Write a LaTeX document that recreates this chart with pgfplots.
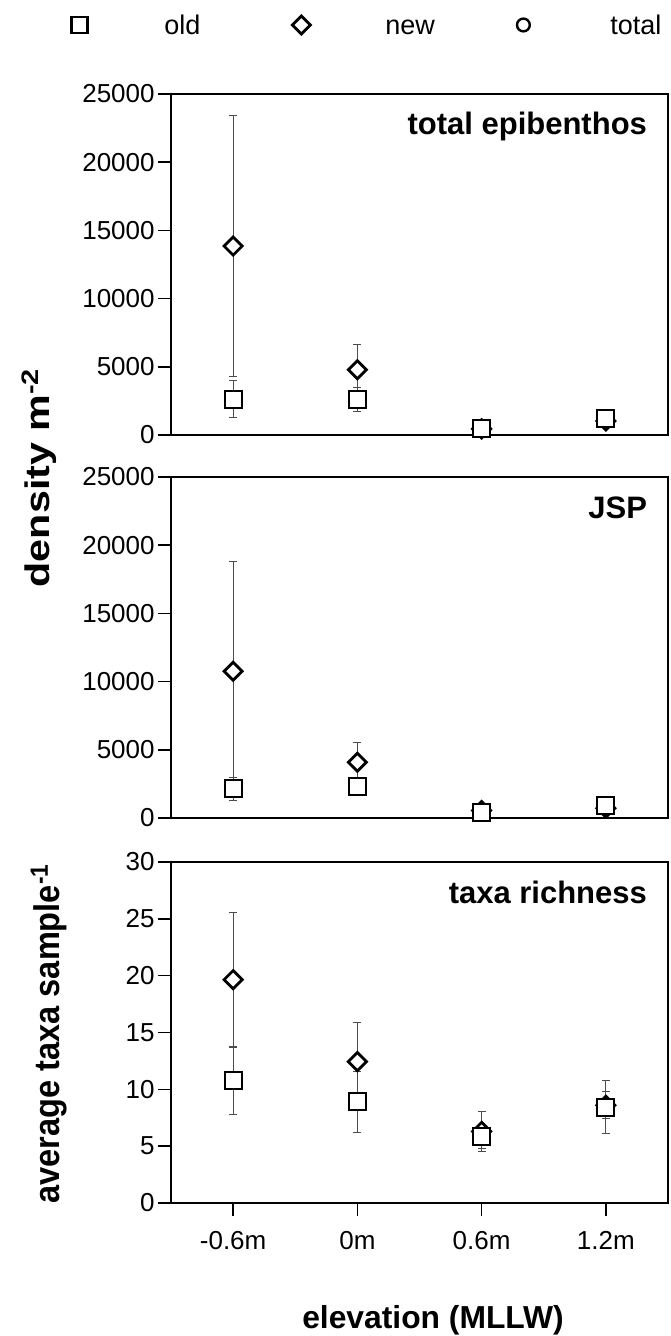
\documentclass[border=0pt]{standalone}
\usepackage{pgfplots}
\pgfplotsset{compat=1.18}
\usepackage{fontspec}
\setmainfont{Liberation Sans}

\pgfplotstableread{
x y e
0 2625 1350
1 2625 880
2 460 100
3 1200 100
}\oldA
\pgfplotstableread{
x y e
0 13850 9550
1 4780 1840
2 450 100
3 1020 100
}\newA
\pgfplotstableread{
x y e
0 2130 850
1 2330 300
2 370 100
3 900 100
}\oldB
\pgfplotstableread{
x y e
0 10760 8070
1 4090 1420
2 550 100
3 720 100
}\newB
\pgfplotstableread{
x y e
0 10.76 3.0
1 8.9 2.7
2 5.82 1.0
3 8.44 2.3
}\oldC
\pgfplotstableread{
x y e
0 19.65 5.95
1 12.44 3.45
2 6.3 1.75
3 8.6 1.2
}\newC

\pgfplotsset{
 panel/.style={
  scale only axis, width=248.5pt, height=170.5pt,
  xmin=-0.5, xmax=3.5, clip=false,
  axis line style={line width=1pt},
  tick style={black, line width=0.8pt},
  tick align=outside, major tick length=6.5pt,
  ytick pos=left, xtick pos=bottom,
  yticklabel style={font=\fontsize{13}{15}\selectfont, inner sep=1.5pt},
  xticklabel style={font=\fontsize{13}{15}\selectfont, yshift=-4pt},
  /pgf/number format/assume math mode=true,
  /pgf/number format/1000 sep={},
  scaled y ticks=false,
 },
 fixedimg/.style={legend image code/.code={
   \path[draw=none, fill=none] (0pt,-5pt) rectangle (17pt,5pt);
   \draw plot coordinates {(8.5pt,0pt)};}},
 oldmark/.style={only marks, mark=square*, mark size=4.25pt,
  mark options={fill=white, draw=black, line width=1pt}},
 newmark/.style={only marks, mark=square*, mark size=3.2pt,
  mark options={rotate=45, fill=white, draw=black, line width=1.4pt}},
 ebars/.style={error bars/.cd, y dir=both, y explicit,
  error bar style={line width=0.5pt, black!70},
  error mark options={rotate=90, mark size=2pt, line width=0.5pt, black!70}},
}
\tikzset{
 ttl/.style={anchor=base east, xshift=-7pt, yshift=-20.5pt,
  font=\bfseries\fontsize{15.5}{18}\selectfont},
}

\begin{document}
\begin{tikzpicture}
\path[use as bounding box] (-85.5pt,47pt) rectangle (249.5pt,-621pt);

\begin{axis}[panel, at={(0pt,0pt)}, anchor=north west,
  ymin=0, ymax=25000, ytick={0,5000,...,25000}, xtick=\empty,
  legend style={draw=none, fill=none, at={(axis description cs:0,1)}, anchor=west,
    xshift=-57.5pt, yshift=34.5pt, legend columns=3, column sep=0pt,
    nodes={inner sep=0pt}, font=\fontsize{13.5}{16}\selectfont}]
\addlegendimage{only marks, mark=square*, mark size=4pt, mark options={fill=white, draw=black, line width=1.4pt}, fixedimg}
\addlegendentry{\makebox[94pt][l]{\hspace{34pt}\strut old}}
\addlegendimage{newmark, fixedimg}
\addlegendentry{\makebox[94pt][l]{\hspace{33.5pt}\strut new}}
\addlegendimage{only marks, mark=o, mark size=3.2pt, mark options={line width=1.2pt}, fixedimg}
\addlegendentry{\hspace{35pt}\strut total}
\addplot[newmark, ebars] table[x=x, y=y, y error=e] {\newA};
\addplot[oldmark, ebars] table[x=x, y=y, y error=e] {\oldA};
\node[ttl] at (rel axis cs:1,1) {total epibenthos};
\end{axis}

\begin{axis}[panel, at={(0pt,-191.5pt)}, anchor=north west,
  ymin=0, ymax=25000, ytick={0,5000,...,25000}, xtick=\empty]
\addplot[newmark, ebars] table[x=x, y=y, y error=e] {\newB};
\addplot[oldmark, ebars] table[x=x, y=y, y error=e] {\oldB};
\node[ttl] at (rel axis cs:1,1) {JSP};
\end{axis}

\begin{axis}[panel, at={(0pt,-384pt)}, anchor=north west,
  ymin=0, ymax=30, ytick={0,5,...,30},
  xtick={0,1,2,3}, xticklabels={-0.6m,0m,0.6m,1.2m}]
\addplot[newmark, ebars] table[x=x, y=y, y error=e] {\newC};
\addplot[oldmark, ebars] table[x=x, y=y, y error=e] {\oldC};
\node[ttl] at (rel axis cs:1,1) {taxa richness};
\end{axis}

\node[rotate=90, anchor=base, font=\bfseries\fontsize{15.5}{18}\selectfont] at (-60.5pt,-191.75pt) {\scalebox{1.33}[1.1]{density m\textsuperscript{-2}}};
\node[rotate=90, anchor=base, font=\bfseries\fontsize{15.5}{18}\selectfont] at (-55.5pt,-469.75pt) {\scalebox{1.05}[1.15]{average taxa sample\textsuperscript{-1}}};
\node[font=\bfseries\fontsize{15.9}{18}\selectfont] at (131pt,-613pt) {elevation (MLLW)};
\end{tikzpicture}
\end{document}
